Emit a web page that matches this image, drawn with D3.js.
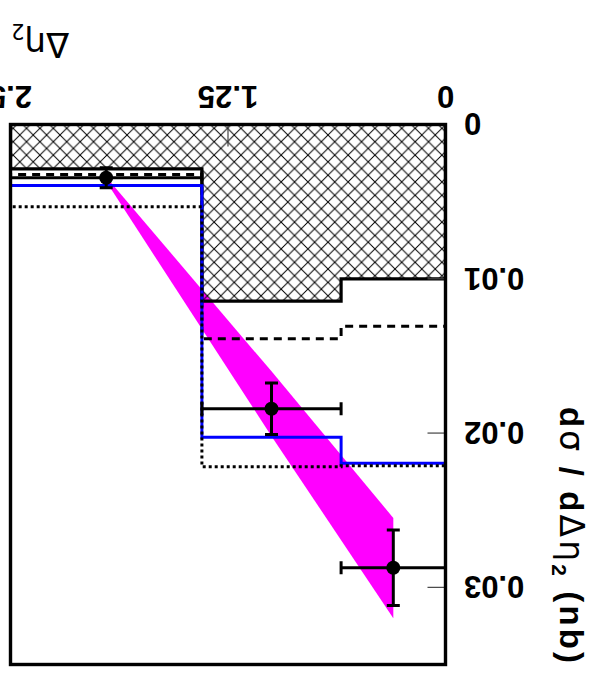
<!DOCTYPE html>
<html>
<head>
<meta charset="utf-8">
<script src="https://cdn.jsdelivr.net/npm/d3@7"></script>
<style>
  html, body { margin: 0; padding: 0; background: #fff; }
  svg { display: block; }
</style>
</head>
<body>
<script>
// ---- data ----
const binEdges = [0, 0.6, 1.4, 2.5];
const hatchedHist = [0.0100, 0.01145, 0.00287];   // solid black, hatched
const dashedHist  = [0.01307, 0.01389, 0.00324];  // black dashed
const blueHist    = [0.02195, 0.02027, 0.00395];  // blue solid
const dottedHist  = [0.02212, 0.02218, 0.00533];  // black dotted

const dataX    = [0.3, 1.0, 1.95];
const dataY    = [0.02873, 0.01842, 0.00345];
const dataYErr = [0.00245, 0.00167, 0.00065];
const dataXLo  = [0, 0.6, 1.4];
const dataXHi  = [0.6, 1.4, 2.5];

const bandX    = [0.3, 1.0, 1.95];
const bandLow  = [0.0255, 0.0160, 0.0034];
const bandHigh = [0.0320, 0.0202, 0.0037];

const xTicks = [0, 1.25, 2.5];
const xTickLabels = ["0", "1.25", "2.5"];
const yTicks = [0, 0.01, 0.02, 0.03];
const yTickLabels = ["0", "0.01", "0.02", "0.03"];

// ---- layout ----
const W = 596, H = 673;
const svg = d3.select("body").append("svg").attr("width", W).attr("height", H);
svg.append("rect").attr("width", W).attr("height", H).attr("fill", "#fff");

// the whole figure is shown rotated by 180 degrees
const g = svg.append("g").attr("transform", `rotate(180 ${W/2} ${H/2})`);

const x = d3.scaleLinear().domain([0, 2.5]).range([150.5, 585.5]);
const y = d3.scaleLinear().domain([0, 0.035]).range([548.5, 8.5]);

const defs = svg.append("defs");
const pat = defs.append("pattern").attr("id", "hatch")
  .attr("patternUnits", "userSpaceOnUse").attr("width", 13.4).attr("height", 13.4)
  .attr("x", 0).attr("y", 2);
pat.append("path").attr("d", "M0,0 L13.4,13.4 M0,13.4 L13.4,0")
  .attr("stroke", "#000").attr("stroke-width", 1).attr("fill", "none");

defs.append("clipPath").attr("id", "frameClip").append("rect")
  .attr("x", x(0)).attr("y", y(0.035)).attr("width", x(2.5) - x(0)).attr("height", y(0) - y(0.035));

const plot = g.append("g").attr("clip-path", "url(#frameClip)");

// band
const bandPts = bandX.map((v, i) => [v, bandLow[i]]).concat(bandX.map((v, i) => [v, bandHigh[i]]).reverse());
plot.append("path")
  .attr("d", d3.line().x(d => x(d[0])).y(d => y(d[1]))(bandPts) + "Z")
  .attr("fill", "#ff00ff").attr("stroke", "none");

function stepPts(vals) {
  const pts = [[binEdges[0], 0]];
  vals.forEach((v, i) => { pts.push([binEdges[i], v]); pts.push([binEdges[i + 1], v]); });
  pts.push([binEdges[binEdges.length - 1], 0]);
  return pts;
}
const stepLine = d3.line().x(d => x(d[0])).y(d => y(d[1]));

// hatched histogram
plot.append("path").attr("d", stepLine(stepPts(hatchedHist)) + "Z")
  .attr("fill", "url(#hatch)").attr("stroke", "none");
plot.append("path").attr("d", stepLine(stepPts(hatchedHist)))
  .attr("fill", "none").attr("stroke", "#000").attr("stroke-width", 3.2);

plot.append("path").attr("d", stepLine(stepPts(dashedHist)))
  .attr("fill", "none").attr("stroke", "#000").attr("stroke-width", 3)
  .attr("stroke-dasharray", "8 6");
plot.append("path").attr("d", stepLine(stepPts(blueHist)))
  .attr("fill", "none").attr("stroke", "#0000ff").attr("stroke-width", 3);
plot.append("path").attr("d", stepLine(stepPts(dottedHist)))
  .attr("fill", "none").attr("stroke", "#000").attr("stroke-width", 3)
  .attr("stroke-dasharray", "3 3");

// data points with error bars
const cap = 6.5;
dataX.forEach((xv, i) => {
  const pg = plot.append("g").attr("stroke", "#000").attr("stroke-width", 3);
  const yc = y(dataY[i]);
  pg.append("line").attr("x1", x(dataXLo[i])).attr("x2", x(dataXHi[i])).attr("y1", yc).attr("y2", yc);
  pg.append("line").attr("x1", x(dataXLo[i])).attr("x2", x(dataXLo[i])).attr("y1", yc - cap).attr("y2", yc + cap);
  pg.append("line").attr("x1", x(dataXHi[i])).attr("x2", x(dataXHi[i])).attr("y1", yc - cap).attr("y2", yc + cap);
  const y1 = y(dataY[i] - dataYErr[i]), y2 = y(dataY[i] + dataYErr[i]);
  pg.append("line").attr("x1", x(xv)).attr("x2", x(xv)).attr("y1", y1).attr("y2", y2);
  pg.append("line").attr("x1", x(xv) - cap).attr("x2", x(xv) + cap).attr("y1", y1).attr("y2", y1);
  pg.append("line").attr("x1", x(xv) - cap).attr("x2", x(xv) + cap).attr("y1", y2).attr("y2", y2);
  plot.append("circle").attr("cx", x(xv)).attr("cy", yc).attr("r", 7).attr("fill", "#000");
});

// ticks
const tg = g.append("g").attr("stroke", "#444").attr("stroke-width", 1.2);
xTicks.forEach(t => {
  tg.append("line").attr("x1", x(t)).attr("x2", x(t)).attr("y1", y(0)).attr("y2", y(0) - 22);
});
yTicks.forEach(t => {
  tg.append("line").attr("x1", x(0)).attr("x2", x(0) + 18).attr("y1", y(t)).attr("y2", y(t));
});

// frame
g.append("rect").attr("x", x(0)).attr("y", y(0.035))
  .attr("width", x(2.5) - x(0)).attr("height", y(0) - y(0.035))
  .attr("fill", "none").attr("stroke", "#000").attr("stroke-width", 3.4);

// tick labels
const lab = g.append("g").attr("font-family", "'Liberation Sans', Arial, sans-serif")
  .attr("font-weight", "bold").attr("font-size", 31).attr("fill", "#000");
xTicks.forEach((t, i) => {
  lab.append("text").attr("x", x(t)).attr("y", 576).attr("dy", "0.36em")
    .attr("text-anchor", "middle").text(xTickLabels[i]);
});
yTicks.forEach((t, i) => {
  lab.append("text").attr("x", 132).attr("y", y(t)).attr("dy", "0.36em")
    .attr("text-anchor", "end").text(yTickLabels[i]);
});

// x title
const xt = g.append("text").attr("x", 585).attr("y", 640).attr("text-anchor", "end")
  .attr("font-family", "'DejaVu Sans', sans-serif").attr("font-weight", "normal")
  .attr("font-size", 34).attr("fill", "#000");
xt.append("tspan").text("Δη");
xt.append("tspan").attr("font-size", 21).attr("dy", 9).text("2");

// y title
const yt = g.append("text").attr("transform", "translate(36,10) rotate(-90)")
  .attr("text-anchor", "end").attr("font-size", 33).attr("fill", "#000")
  .attr("font-family", "'Liberation Sans', Arial, sans-serif").attr("font-weight", "bold")
  .attr("textLength", 256).attr("lengthAdjust", "spacing");
yt.append("tspan").text("d");
yt.append("tspan").attr("font-family", "'DejaVu Sans', sans-serif").attr("font-weight", "normal").text("σ");
yt.append("tspan").text(" / d");
yt.append("tspan").attr("font-family", "'DejaVu Sans', sans-serif").attr("font-weight", "normal").text("Δη");
yt.append("tspan").attr("font-size", 21).attr("dy", 8).text("2");
yt.append("tspan").attr("dy", -8).text(" (nb)");
</script>
</body>
</html>
